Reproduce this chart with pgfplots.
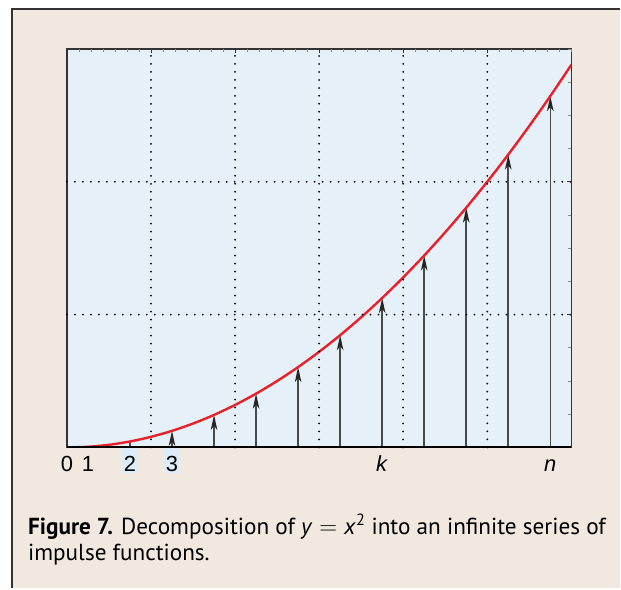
\documentclass[border=0pt]{standalone}
\usepackage{pgfplots}
\pgfplotsset{compat=1.18}
\usepackage{fontspec}
\setmainfont{PT Sans}
\newfontfamily\tickfont{Liberation Sans}
\usetikzlibrary{arrows.meta}

\definecolor{paper}{HTML}{F1E9E0}
\definecolor{panel}{HTML}{E6F0F9}
\definecolor{curve}{HTML}{E8202A}
\definecolor{hl}{HTML}{DCECF9}
\definecolor{frame}{HTML}{333333}
\definecolor{stem}{HTML}{4A4A4A}

% tick labels share one box size; two of them get a tinted background
\newcommand\tlab[1]{{\setlength\fboxsep{1.5bp}\setlength\fboxrule{0pt}\fbox{\rule{0pt}{21.5bp}#1}}}
\newcommand\hlab[1]{{\setlength\fboxsep{1.5bp}\colorbox{hl}{\rule{0pt}{21.5bp}#1}}}

\begin{document}
\begin{tikzpicture}[x=1bp,y=1bp]
% page and frame
\fill[white] (0,0) rectangle (621,589);
\fill[paper] (12,0) rectangle (621,580);
\draw[frame, line width=1.5bp] (12,0) -- (12,580) -- (621,580);

% main panel: curve, impulses, labels
\begin{axis}[
  at={(67bp,141bp)}, anchor=south west,
  scale only axis, width=505bp, height=399bp,
  xmin=0, xmax=12, ymin=0, ymax=150,
  axis background/.style={fill=panel},
  axis line style={frame, line width=1.4bp},
  xtick={0,0.5,1.5,2.5,7.5,11.5},
  xticklabels={\tlab{0},\tlab{1},\hlab{2},\hlab{3},\tlab{\textit{k}},\tlab{\textit{n}}},
  xtick pos=left, ytick=\empty,
  major tick length=0pt,
  xticklabel style={font=\tickfont\fontsize{22}{22}\selectfont, anchor=north, inner sep=0pt, yshift=-0.5bp},
]
% impulses too short for an arrowhead
\addplot[ycomb, stem, line width=1.6bp, no markers] coordinates {(0.5,0.25) (1.5,2.25)};
% impulses with arrowheads
\addplot[stem, line width=1.6bp, no markers,
  quiver={u=0, v=\thisrow{h}},
  -{Stealth[length=15bp, width=6.5bp, inset=4bp, black!85]}]
  table[x=x, y=y] {
x    y  h
2.5  0  6.25
3.5  0  12.25
4.5  0  20.25
5.5  0  30.25
6.5  0  42.25
7.5  0  56.25
8.5  0  72.25
9.5  0  90.25
10.5 0  110.25
11.5 0  132.25
};
% y = x^2
\addplot[curve, line width=2.4bp, smooth, no markers] coordinates {
(0,0) (0.5,0.25) (1,1) (1.5,2.25) (2,4) (2.5,6.25) (3,9) (3.5,12.25)
(4,16) (4.5,20.25) (5,25) (5.5,30.25) (6,36) (6.5,42.25) (7,49)
(7.5,56.25) (8,64) (8.5,72.25) (9,81) (9.5,90.25) (10,100)
(10.5,110.25) (11,121) (11.5,132.25) (12,144)
};
\draw[black, line width=2.6bp] (rel axis cs:0,0) -- (rel axis cs:1,0);
\end{axis}

% dotted grid and tick marks along the top and right edges
\begin{axis}[
  at={(67bp,141bp)}, anchor=south west,
  scale only axis, width=505bp, height=399bp,
  xmin=0, xmax=12, ymin=0, ymax=150,
  axis line style={draw=none},
  xtick={2,4,...,10}, minor xtick={0.2857,0.5714,...,12},
  ytick={50,100}, minor ytick={12.5,25,...,150},
  xtick pos=right, ytick pos=right, tick align=inside,
  xticklabels={}, yticklabels={},
  grid=major,
  grid style={black, line width=2bp, line cap=round, dash pattern=on 0bp off 8bp},
  major tick length=4bp, minor tick length=3bp,
  major tick style={frame, line width=0.9bp},
  minor tick style={black!45, line width=0.7bp},
]
\end{axis}

% caption
\node[anchor=base west, inner sep=0pt, font=\fontsize{23.3}{26}\selectfont] at (28,54)
  {\textbf{Figure 7.} Decomposition of \textit{y}\hspace{0.3em}$=$\hspace{0.3em}\textit{x}\textsuperscript{2} into an infinite series of};
\node[anchor=base west, inner sep=0pt, font=\fontsize{23.3}{26}\selectfont] at (28,28)
  {impulse functions.};
\end{tikzpicture}
\end{document}
